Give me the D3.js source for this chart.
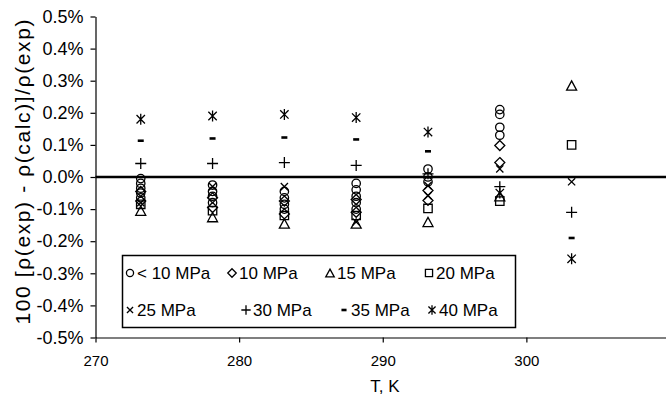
<!DOCTYPE html>
<html>
<head>
<meta charset="utf-8">
<script src="https://cdn.jsdelivr.net/npm/d3@7"></script>
<style>
  body { margin: 0; background: #fff; }
  svg text { font-family: "Liberation Sans", Arial, sans-serif; fill: #000; }
</style>
</head>
<body>
<div id="chart"></div>
<script>
// temperatures (K) and pressure groups
var temps = [273.15, 278.15, 283.15, 288.15, 293.15, 298.15, 303.15];
var pressures = ["< 10 MPa", "10 MPa", "15 MPa", "20 MPa", "25 MPa", "30 MPa", "35 MPa", "40 MPa"];
var symbols = ["circle", "diamond", "triangle", "square", "cross", "plus", "minus", "asterisk"];

// deviations in %, one list per temperature
var devBelow10 = [[-0.005, -0.02, -0.035, -0.05, -0.065], [-0.025, -0.045, -0.06, -0.08], [-0.045, -0.065, -0.085, -0.1], [-0.02, -0.04, -0.06, -0.08, -0.1], [0.025, 0.0, -0.015], [0.21, 0.195, 0.155, 0.13], []];
var dev10 = [[-0.045, -0.075], [-0.065, -0.095], [-0.075, -0.115], [-0.07, -0.11], [-0.042, -0.073], [0.098, 0.045], []];
var dev15 = [[-0.105], [-0.125], [-0.145], [-0.145], [-0.14], [-0.06], [0.285]];
var dev20 = [[-0.085], [-0.105], [-0.12], [-0.12], [-0.098], [-0.075], [0.1]];
var dev25 = [[-0.08], [-0.03], [-0.03], [-0.14], [-0.027, -0.058], [0.025], [-0.015]];
var dev30 = [[0.042], [0.042], [0.045], [0.036], [0.01], [-0.03], [-0.11]];
var dev35 = [[0.113], [0.12], [0.123], [0.117], [0.08], [], [-0.19]];
var dev40 = [[0.18], [0.19], [0.195], [0.185], [0.14], [-0.05], [-0.255]];

var devs = [devBelow10, dev10, dev15, dev20, dev25, dev30, dev35, dev40];
var yTicks = [-0.5, -0.4, -0.3, -0.2, -0.1, 0, 0.1, 0.2, 0.3, 0.4, 0.5];
var xTicks = [270, 280, 290, 300];

var W = 666, H = 401;

var xScale = d3.scaleLinear().domain([270, 310]).range([95.5, 670]);
var yScale = d3.scaleLinear().domain([-0.5, 0.5]).range([337.5, 16.5]);

var svg = d3.select("#chart").append("svg")
  .attr("width", W)
  .attr("height", H);

// symbol paths, s = scale
function symbolPath(type, s) {
  var p = d3.path();
  if (type == "circle") {
    var r = 4.2 * s;
    p.moveTo(r, 0); p.arc(0, 0, r, 0, 2 * Math.PI);
  } else if (type == "diamond") {
    var d = 5 * s;
    p.moveTo(0, -d); p.lineTo(d, 0); p.lineTo(0, d); p.lineTo(-d, 0); p.closePath();
  } else if (type == "triangle") {
    var w = 5 * s, h = 4.6 * s;
    p.moveTo(0, -h); p.lineTo(w, h); p.lineTo(-w, h); p.closePath();
  } else if (type == "square") {
    var q = 4.2 * s;
    p.rect(-q, -q, 2 * q, 2 * q);
  } else if (type == "cross") {
    var c = 3.6 * s;
    p.moveTo(-c, -c); p.lineTo(c, c); p.moveTo(c, -c); p.lineTo(-c, c);
  } else if (type == "plus") {
    var a = 5.5 * s;
    p.moveTo(-a, 0); p.lineTo(a, 0); p.moveTo(0, -a); p.lineTo(0, a);
  } else if (type == "minus") {
    var m = 3 * s;
    p.moveTo(-m, 0); p.lineTo(m, 0);
  } else if (type == "asterisk") {
    var e = 4.2 * s, v = 5.5 * s;
    p.moveTo(-e, -e); p.lineTo(e, e); p.moveTo(e, -e); p.lineTo(-e, e);
    p.moveTo(0, -v); p.lineTo(0, v);
  }
  return p.toString();
}

function strokeW(type) {
  return type == "minus" ? 2.6 : 1.3;
}

// axes
var yAxis = d3.axisLeft(yScale)
  .tickValues(yTicks)
  .tickSize(5).tickSizeOuter(0).tickPadding(7)
  .tickFormat(function(d) { return (Math.abs(d) < 1e-9 ? 0 : d).toFixed(1) + "%"; });

var xAxis = d3.axisBottom(xScale)
  .tickValues(xTicks)
  .tickSize(5).tickSizeOuter(0).tickPadding(13)
  .tickFormat(d3.format("d"));

var gY = svg.append("g")
  .attr("transform", "translate(" + xScale(270) + ",0)")
  .call(yAxis);

var gX = svg.append("g")
  .attr("transform", "translate(0," + yScale(-0.5) + ")")
  .call(xAxis);

[gX, gY].forEach(function(g) {
  g.selectAll("path, line").attr("stroke", "#000").attr("stroke-width", 1.2);
  g.selectAll("text").attr("fill", "#000");
});
gY.selectAll("text").style("font-size", "18px");
gX.selectAll("text").style("font-size", "15px");

// zero line
svg.append("line")
  .attr("x1", xScale(270)).attr("x2", W)
  .attr("y1", yScale(0)).attr("y2", yScale(0))
  .attr("stroke", "#000").attr("stroke-width", 2.6);

// points
var points = [];
devs.forEach(function(series, i) {
  series.forEach(function(vals, j) {
    vals.forEach(function(v) {
      points.push({T: temps[j], v: v, sym: symbols[i]});
    });
  });
});

svg.append("g").selectAll("path")
  .data(points)
  .enter().append("path")
  .attr("transform", function(d) { return "translate(" + xScale(d.T) + "," + yScale(d.v) + ")"; })
  .attr("d", function(d) { return symbolPath(d.sym, 1); })
  .attr("fill", "none")
  .attr("stroke", "#000")
  .attr("stroke-width", function(d) { return strokeW(d.sym); });

// legend
var legend = svg.append("g");
legend.append("rect")
  .attr("x", 122.5).attr("y", 255.5)
  .attr("width", 393).attr("height", 72)
  .attr("fill", "#fff").attr("stroke", "#000").attr("stroke-width", 1.5);

var legendPos = [
  [130, 273], [232, 273], [330, 273], [429, 273],
  [130, 310], [246, 310], [344, 310], [432, 310]
];

var items = legend.selectAll("g.item")
  .data(pressures)
  .enter().append("g")
  .attr("class", "item")
  .attr("transform", function(d, i) { return "translate(" + legendPos[i][0] + "," + legendPos[i][1] + ")"; });

items.append("path")
  .attr("d", function(d, i) { return symbolPath(symbols[i], 0.85); })
  .attr("fill", "none")
  .attr("stroke", "#000")
  .attr("stroke-width", function(d, i) { return strokeW(symbols[i]); });

items.append("text")
  .attr("x", 7)
  .attr("dy", "0.36em")
  .style("font-size", "17px")
  .text(function(d) { return d; });

// axis titles
svg.append("text")
  .attr("x", 385).attr("y", 392)
  .attr("text-anchor", "middle")
  .style("font-size", "17px")
  .text("T, K");

svg.append("text")
  .attr("transform", "translate(30,172) rotate(-90)")
  .attr("text-anchor", "middle")
  .attr("textLength", 305)
  .attr("lengthAdjust", "spacing")
  .style("font-size", "21px")
  .text("100 [\u03c1(exp) - \u03c1(calc)]/\u03c1(exp)");
</script>
</body>
</html>
